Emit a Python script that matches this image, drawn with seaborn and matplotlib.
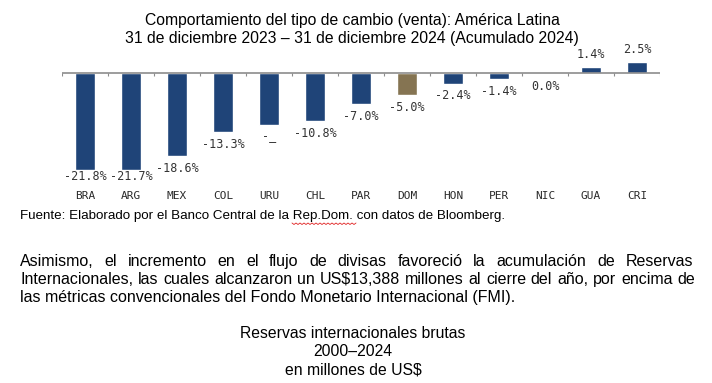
import numpy as np
import pandas as pd
import seaborn as sns
import matplotlib.pyplot as plt
from matplotlib.lines import Line2D

# datos
paises = ["BRA", "ARG", "MEX", "COL", "URU", "CHL", "PAR", "DOM", "HON", "PER", "NIC", "GUA", "CRI"]
variacion = [-21.8, -21.7, -18.6, -13.3, -11.6, -10.8, -7.0, -5.0, -2.4, -1.4, 0.0, 1.4, 2.5]
etiquetas = ["-21.8%", "-21.7%", "-18.6%", "-13.3%", "-_", "-10.8%", "-7.0%", "-5.0%",
             "-2.4%", "-1.4%", "0.0%", "1.4%", "2.5%"]

titulo = ["Comportamiento del tipo de cambio (venta): América Latina",
          "31 de diciembre 2023 \u2013 31 de diciembre 2024 (Acumulado 2024)"]
fuente = "Fuente: Elaborado por el Banco Central de la Rep.Dom. con datos de Bloomberg."
parrafo = ["Asimismo, el incremento en el flujo de divisas favoreció la acumulación de Reservas",
           "Internacionales, las cuales alcanzaron un US$13,388 millones al cierre del año, por encima de",
           "las métricas convencionales del Fondo Monetario Internacional (FMI)."]
titulo2 = ["Reservas internacionales brutas", "2000\u20132024", "en millones de US$"]

AZUL = "#1f4478"
OCRE = "#857452"

W, H = 712, 383
sns.set_theme(style="white")
plt.rcParams["font.family"] = ["Liberation Sans", "DejaVu Sans"]

fig = plt.figure(figsize=(W / 100, H / 100), dpi=100)
fig.patch.set_facecolor("white")


def fx(px):
    return px / W


def fy(py):
    return 1 - py / H


# eje del grafico: cero en y=73 px, 4.47 px por punto
esc = 4.47
top_px, bot_px = 45, 180
ax = fig.add_axes([fx(62), fy(bot_px), fx(660) - fx(62), (bot_px - top_px) / H])
df = pd.DataFrame({"pais": paises, "var": variacion})
colores = [OCRE if p == "DOM" else AZUL for p in paises]
sns.barplot(data=df, x="pais", y="var", hue="pais", palette=colores, legend=False,
            width=0.44, saturation=1, ax=ax)
ax.set_xlim(-0.5, len(paises) - 0.5)
ax.set_ylim(-(bot_px - 73) / esc, (73 - top_px) / esc)
ax.axhline(0, color="#8c8c8c", lw=1.2, zorder=3)
ax.vlines(np.arange(len(paises) + 1) - 0.5, -0.7, 0, color="#8c8c8c", lw=0.8)
for s in ax.spines.values():
    s.set_visible(False)
ax.set_yticks([])
ax.set_xlabel("")
ax.set_ylabel("")
ax.tick_params(axis="x", length=0, pad=8)
for lab in ax.get_xticklabels():
    lab.set_fontfamily("DejaVu Sans Mono")
    lab.set_fontsize(8)
    lab.set_color("#2a2a2a")

for i, (v, t) in enumerate(zip(variacion, etiquetas)):
    if v > 0:
        y = v + 12 / esc
    elif v < 0:
        y = max(v - 12 / esc, -104 / esc)
    else:
        y = -13 / esc
    ax.text(i, y, t, ha="center", va="center", fontsize=8.5,
            family="DejaVu Sans Mono", color="#333333")

# titulos y textos
fig.text(fx(352), fy(20), titulo[0], ha="center", va="center", fontsize=11.3, color="black")
fig.text(fx(352), fy(38), titulo[1], ha="center", va="center", fontsize=11.3, color="black")
fig.text(fx(20), fy(216), fuente, ha="left", va="center", fontsize=9.6, color="black")

# subrayado de corrector bajo "Rep.Dom."
zx = np.arange(292, 358, 2)
zy = 223 + np.where(np.arange(len(zx)) % 2 == 0, 0, 1.5)
fig.add_artist(Line2D(fx(zx), fy(zy), color="#e02020", lw=0.6, transform=fig.transFigure))

# parrafo justificado
rend = fig.canvas.get_renderer()


def linea_justificada(texto, ypx, x0, x1, fs):
    palabras = texto.split(" ")
    anchos = []
    for p in palabras:
        t = fig.text(0, 0, p, fontsize=fs)
        anchos.append(t.get_window_extent(rend).width)
        t.remove()
    hueco = (x1 - x0 - sum(anchos)) / (len(palabras) - 1)
    x = x0
    for p, a in zip(palabras, anchos):
        fig.text(fx(x), fy(ypx), p, ha="left", va="baseline", fontsize=fs, color="black")
        x += a + hueco


fs_p = 11.5
linea_justificada(parrafo[0], 266, 20, 693, fs_p)
linea_justificada(parrafo[1], 284, 20, 695, fs_p)
fig.text(fx(20), fy(302), parrafo[2], ha="left", va="baseline", fontsize=fs_p, color="black")

for txt, ypx in zip(titulo2, [334, 352, 370]):
    fig.text(fx(353), fy(ypx), txt, ha="center", va="center", fontsize=11.3, color="black")

fig.savefig("out.png", dpi=100)
